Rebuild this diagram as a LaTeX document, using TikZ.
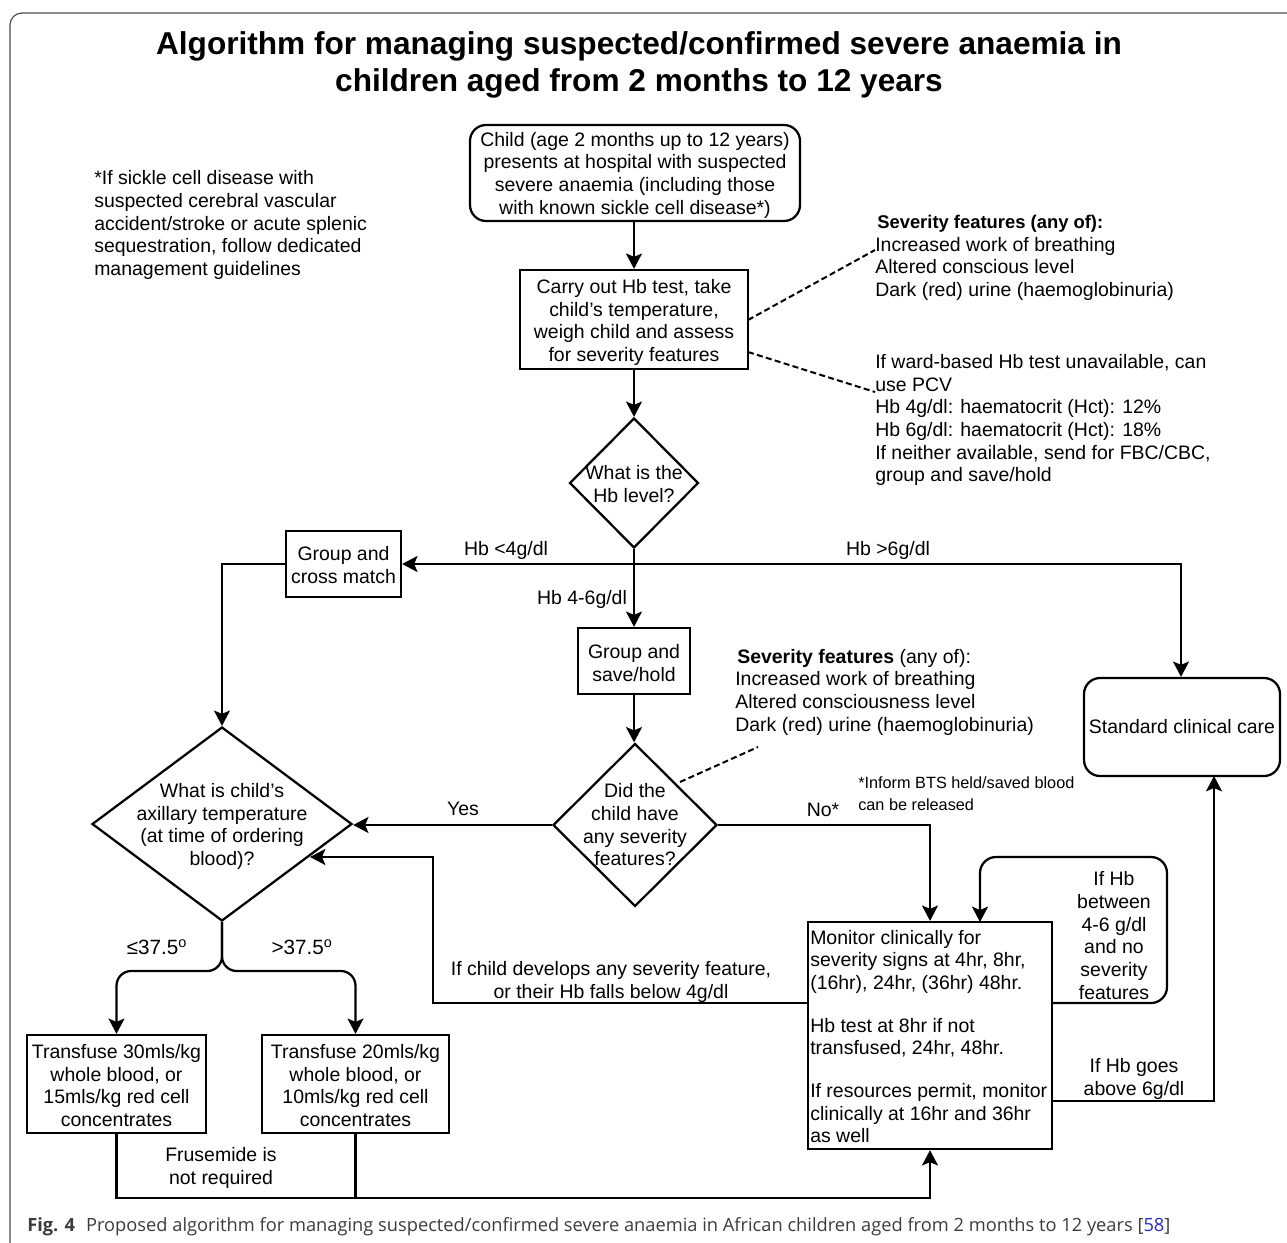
\documentclass[tikz,border=0pt]{standalone}
\usepackage{fontspec}
\setmainfont{Liberation Sans}
\newfontfamily\capfont{Open Sans}
\usetikzlibrary{shapes.geometric,arrows.meta,calc}
\def\px{0.75pt}
\definecolor{capgray}{RGB}{60,60,60}
\definecolor{linkblue}{RGB}{40,40,200}
\tikzset{
  x=0.75pt,y=-0.75pt,
  base/.style={font=\fontsize{14.6}{17}\selectfont,align=center,inner sep=0pt},
  lab/.style={base,text=black},
  labl/.style={base,align=left,anchor=west},
  boxn/.style={base,draw,line width=1.7pt,rectangle},
  rbox/.style={boxn,rounded corners=12pt},
  dia/.style={draw,line width=1.7pt,diamond,inner sep=0pt},
  conn/.style={line width=1.7pt},
  arr/.style={conn,-{Stealth[length=11.5pt,width=12pt,inset=2.5pt]}},
  dashline/.style={line width=1.5pt,dash pattern=on 4.5pt off 2.5pt},
}
\begin{document}
\begin{tikzpicture}
\useasboundingbox (0,0) rectangle (1287,1242);
\draw[line width=0.9pt,color=black!70,rounded corners=9pt] (10,1260) -- (10,13) -- (1287,13);
\node[font=\fontsize{23.7}{28}\bfseries\selectfont,align=center,inner sep=0pt] (title) at (639,65) {Algorithm for managing suspected/confirmed severe anaemia in\\children aged from 2 months to 12 years};

\node[rbox,minimum width=330*\px,minimum height=96*\px,label={[lab,yshift=-2*\px]center:{Child (age 2 months up to 12 years)\\presents at hospital with suspected\\severe anaemia (including those\\with known sickle cell disease*)}}] (start) at (635,173) {};
\node[boxn,minimum width=228*\px,minimum height=99*\px,label={[lab,yshift=-3*\px]center:{Carry out Hb test, take\\child's temperature,\\weigh child and assess\\for severity features}}] (test) at (634,319.5) {};
\node[dia,minimum width=129*\px,minimum height=130*\px,label={[lab,yshift=-1*\px]center:{What is the\\Hb level?}}] (hb) at (634,483) {};
\node[boxn,minimum width=115*\px,minimum height=66*\px,label={[lab,yshift=-1*\px]center:{Group and\\cross match}}] (cross) at (343.5,564) {};
\node[boxn,minimum width=112*\px,minimum height=66*\px,label={[lab,yshift=-2*\px]center:{Group and\\save/hold}}] (save) at (634,661) {};
\node[dia,minimum width=164*\px,minimum height=163*\px,label={[lab]center:{Did the\\child have\\any severity\\features?}}] (sev) at (635,825) {};
\node[dia,minimum width=260*\px,minimum height=194*\px,label={[lab,yshift=-2.5*\px]center:{What is child's\\axillary temperature\\(at time of ordering\\blood)?}}] (temp) at (222,824) {};
\node[rbox,minimum width=196*\px,minimum height=98*\px] (std) at (1182,727) {Standard clinical care};
\node[boxn,minimum width=244*\px,minimum height=227*\px] (mon) at (930,1035.5) {};
\node[labl] (montext) at (810,1036.5) {Monitor clinically for\\severity signs at 4hr, 8hr,\\(16hr), 24hr, (36hr) 48hr.\\[15pt]Hb test at 8hr if not\\transfused, 24hr, 48hr.\\[15pt]If resources permit, monitor\\clinically at 16hr and 36hr\\as well};
\node[boxn,minimum width=179*\px,minimum height=98*\px,label={[lab,yshift=-1.5*\px]center:{Transfuse 30mls/kg\\whole blood, or\\15mls/kg red cell\\concentrates}}] (tone) at (116.5,1084) {};
\node[boxn,minimum width=187*\px,minimum height=98*\px,label={[lab,yshift=-1.5*\px]center:{Transfuse 20mls/kg\\whole blood, or\\10mls/kg red cell\\concentrates}}] (ttwo) at (355.5,1084) {};

\node[labl] (note) at (94,225) {*If sickle cell disease with\\suspected cerebral vascular\\accident/stroke or acute splenic\\sequestration, follow dedicated\\management guidelines};
\node[labl] (sevone) at (875,258) {\kern1.5pt{\fontsize{13.8}{17}\selectfont\textbf{Severity features (any of):}}\\Increased work of breathing\\Altered conscious level\\Dark (red) urine (haemoglobinuria)};
\node[labl] (ward) at (875,420) {If ward-based Hb test unavailable, can\\use PCV\\Hb 4g/dl: haematocrit (Hct): 12\%\\Hb 6g/dl: haematocrit (Hct): 18\%\\If neither available, send for FBC/CBC,\\group and save/hold};
\node[labl] (sevtwo) at (735,692) {\kern1.5pt\textbf{Severity features} (any of):\\Increased work of breathing\\Altered consciousness level\\Dark (red) urine (haemoglobinuria)};
\node[labl,font=\fontsize{12.2}{16.5}\selectfont] (inform) at (858,794) {*Inform BTS held/saved blood\\can be released};
\node[lab] (lless) at (506,550) {Hb <4g/dl};
\node[lab] (lmore) at (888,550) {Hb >6g/dl};
\node[lab] (lmid) at (582,599) {Hb 4-6g/dl};
\node[lab] (lyes) at (463,809) {Yes};
\node[lab] (lno) at (823,810) {No*};
\node[lab] (lchild) at (611,982) {If child develops any severity feature,\\or their Hb falls below 4g/dl};
\node[lab] (lbetween) at (1114,935.5) {If Hb\\between\\4-6 g/dl\\and no\\severity\\features};
\node[lab] (labove) at (1134,1079) {If Hb goes\\above 6g/dl};
\node[lab,font=\fontsize{15.5}{17}\selectfont] (llow) at (157,947) {≤37.5\textsuperscript{o}};
\node[lab,font=\fontsize{15.5}{17}\selectfont] (lhigh) at (302,947) {>37.5\textsuperscript{o}};
\node[lab] (lfru) at (221,1168) {Frusemide is\\not required};

\coordinate (sevoneend) at (875,250);
\coordinate (wardend) at (875,392);
\coordinate (sevtwoend) at (758,747);
\coordinate (testa) at (748,320);
\coordinate (testb) at (748,352);
\coordinate (seva) at (680,782);
\coordinate (crossout) at (222,564);
\coordinate (hbright) at (1181,564);
\coordinate (monl) at (808,1003);
\coordinate (monla) at (433,1003);
\coordinate (monlb) at (433,857);
\coordinate (tempin) at (310,857);
\coordinate (monr) at (1052,1003);
\coordinate (loopa) at (1167,1003);
\coordinate (loopb) at (1167,857);
\coordinate (loopc) at (980,857);
\coordinate (loopd) at (980,922);
\coordinate (monra) at (1052,1101);
\coordinate (monrb) at (1214,1101);
\coordinate (stdin) at (1214,776);
\coordinate (fork) at (222,971);
\coordinate (busl) at (116.5,1198);
\coordinate (busm) at (355.5,1198);
\coordinate (busr) at (930,1198);

\draw[arr] (test.north |- start.south) -- (test.north);
\draw[arr] (test.south) -- (hb.north);
\draw[arr] (hb.south) -- (save.north);
\draw[arr] (save.south) -- (save.south |- sev.north);
\draw[arr] (hb.south |- hbright) -- (cross.east);
\draw[arr] (hb.south |- hbright) -- (hbright) -- (std.north -| hbright);
\draw[arr] (cross.west) -- (crossout) -- (temp.north);
\draw[arr] (sev.west) -- (temp.east |- sev.west);
\draw[arr] (sev.east) -| (mon.north);
\draw[arr] (monl) -- (monla) -- (monlb) -- (tempin);
\draw[arr,rounded corners=12pt] (monr) -- (loopa) -- (loopb) -- (loopc) -- (loopd);
\draw[arr] (monra) -- (monrb) -- (stdin);
\draw[arr,rounded corners=11pt] (temp.south) |- (fork -| tone.north) -- (tone.north);
\draw[arr,rounded corners=11pt] (temp.south) |- (fork -| ttwo.north) -- (ttwo.north);
\draw[conn] (tone.south) -- (busl) -- (busm);
\draw[conn] (ttwo.south) -- (busm);
\draw[arr] (busm) -- (busr) -- (mon.south);
\draw[dashline] (testa) -- (sevoneend);
\draw[dashline] (testb) -- (wardend);
\draw[dashline] (seva) -- (sevtwoend);

\node[anchor=west,inner sep=0pt,font=\capfont\fontsize{13.7}{16}\selectfont,text=capgray] (cap) at (27,1227) {\textbf{Fig. 4}\hspace{0.6em}Proposed algorithm for managing suspected/confirmed severe anaemia in African children aged from 2 months to 12 years [\textcolor{linkblue}{58}]};
\end{tikzpicture}
\end{document}
